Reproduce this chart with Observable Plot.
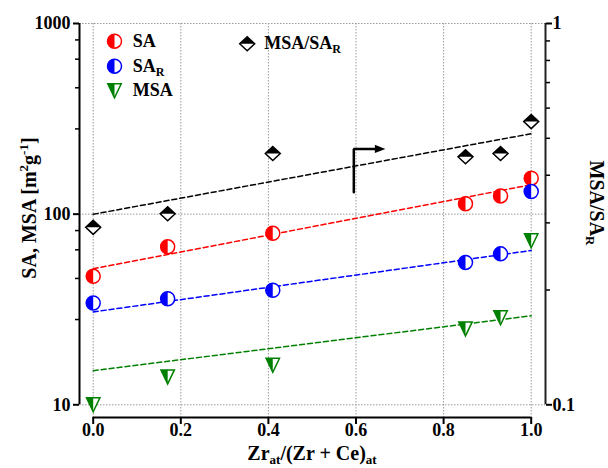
<!DOCTYPE html>
<html><head><meta charset="utf-8">
<script src="https://cdn.jsdelivr.net/npm/d3@7"></script>
<script src="https://cdn.jsdelivr.net/npm/@observablehq/plot@0.6"></script>
<style>
body{margin:0;background:#fff;}
#chart{position:relative;width:608px;height:468px;}
</style></head><body><div id="chart"></div>
<script>
// ---- data ----
const xVals = [0, 0.17, 0.41, 0.85, 0.93, 1.0];
const saVals = [47.2, 67.4, 79.3, 113.4, 124.6, 154.4];
const sarVals = [34.2, 36.0, 39.9, 55.8, 61.9, 131.3];
const msaVals = [10.0, 14.0, 16.1, 25.0, 28.6, 72.5];
const ratioVals = [0.292, 0.317, 0.456, 0.447, 0.456, 0.553];
const fitX = [0, 1];
const fitSA = [51.7, 142.7];
const fitSAR = [30.7, 64.5];
const fitMSA = [15.1, 29.3];
const fitRatio = [0.316, 0.514];
const xTicks = [0, 0.2, 0.4, 0.6, 0.8, 1.0];
const leftMajor = [10, 100, 1000];
const leftMinor = [28, 46, 65, 82, 280, 460, 650, 820];
const rightMajor = [0.1, 1];
const rightMinor = [0.2, 0.3, 0.4, 0.5, 0.6, 0.7, 0.8, 0.9];
const arrowPath = [{x: 0.595, r: 0.361}, {x: 0.595, r: 0.469}, {x: 0.655, r: 0.469}];
const arrowTip = [{x: 0.667, r: 0.469}];
const legendNames = ["SA", "SA", "MSA", "MSA/SA"];
const legendSubs = ["", "R", "", "R"];

// right axis (0.1..1) mapped onto the left log scale (10..1000)
const toLeft = r => 1000 * r * r;
const fromLeft = L => Math.sqrt(L / 1000);

const FONT = "'Liberation Serif','Times New Roman',serif";
const RED = "#ff0000", BLUE = "#0000ff", GREEN = "#008000", BLACK = "#000000";

// ---- custom symbols ----
const R = s => Math.sqrt(s / Math.PI);
const circleFull = {draw(c, s) { const r = R(s); c.moveTo(r, 0); c.arc(0, 0, r, 0, 2 * Math.PI); c.closePath(); }};
const circleLeft = {draw(c, s) { const r = R(s); c.moveTo(0, -r); c.arc(0, 0, r, -Math.PI / 2, Math.PI / 2, true); c.closePath(); }};
const triFull = {draw(c, s) { const r = R(s); c.moveTo(-0.96 * r, -r); c.lineTo(0.96 * r, -r); c.lineTo(0, r); c.closePath(); }};
const triLeft = {draw(c, s) { const r = R(s); c.moveTo(-0.96 * r, -r); c.lineTo(0, -r); c.lineTo(0, r); c.closePath(); }};
const diaFull = {draw(c, s) { const r = R(s); c.moveTo(0, -r); c.lineTo(1.07 * r, 0); c.lineTo(0, r); c.lineTo(-1.07 * r, 0); c.closePath(); }};
const diaTop = {draw(c, s) { const r = R(s); c.moveTo(-1.07 * r, 0); c.lineTo(0, -r); c.lineTo(1.07 * r, 0); c.closePath(); }};
const headRight = {draw(c, s) { const r = R(s); c.moveTo(0, 0); c.lineTo(-1.4 * r, -0.55 * r); c.lineTo(-1.4 * r, 0.55 * r); c.closePath(); }};

const rows = xVals.map((x, i) => ({x, sa: saVals[i], sar: sarVals[i], msa: msaVals[i], ratio: toLeft(ratioVals[i])}));

function series(key, full, half, color, r) {
  return [
    Plot.dot(rows, {x: "x", y: key, symbol: full, r, fill: "#fff", stroke: color, strokeWidth: 1.5}),
    Plot.dot(rows, {x: "x", y: key, symbol: half, r, fill: color, stroke: "none"})
  ];
}
function fit(vals, color, map = v => v) {
  return Plot.line(fitX, {x: d => d, y: (d, i) => map(vals[i]), stroke: color, strokeWidth: 1.5, strokeDasharray: "5,3"});
}
function legendMark(full, half, color, r, dx, dy) {
  return [
    Plot.dot([0], {frameAnchor: "top-left", dx, dy, symbol: full, r, fill: "#fff", stroke: color, strokeWidth: 1.5}),
    Plot.dot([0], {frameAnchor: "top-left", dx, dy, symbol: half, r, fill: color, stroke: "none"})
  ];
}

const gridStyle = {stroke: "#999", strokeOpacity: 1, strokeWidth: 1, strokeDasharray: "1.5,1.5"};
const noText = () => "";

const svg = Plot.plot({
  width: 608, height: 468,
  marginLeft: 79, marginRight: 63, marginTop: 23, marginBottom: 51,
  style: {fontFamily: FONT, fontWeight: "bold", fontSize: "18px", color: "#000", background: "#fff", overflow: "visible"},
  x: {domain: [0, 1], insetLeft: 13.7, insetRight: 14.3, axis: null},
  y: {type: "log", domain: [10, 1000], insetBottom: 12.7, axis: null},
  marks: [
    Plot.gridX(xTicks, gridStyle),
    Plot.gridY(leftMajor, gridStyle),
    // axis lines
    Plot.ruleX([0], {y1: 10, y2: 1000, dx: -13.7, stroke: BLACK, strokeWidth: 2}),
    Plot.ruleX([1], {y1: 10, y2: 1000, dx: 14.3, stroke: "#222", strokeWidth: 2}),
    Plot.ruleY([10], {x1: 0, x2: 1, dy: 12.7, stroke: BLACK, strokeWidth: 2}),
    // left axis
    Plot.axisY(leftMajor, {anchor: "left", tickSize: 6, tickPadding: 3, strokeWidth: 2, tickFormat: d => String(d), label: null, fontSize: 18, fontWeight: "bold"}),
    Plot.axisY(leftMinor, {anchor: "left", tickSize: 4, strokeWidth: 1.5, tickFormat: noText, label: null}),
    // right axis
    Plot.axisY(rightMajor.map(toLeft), {anchor: "right", tickSize: 6, tickPadding: 1, strokeWidth: 2, tickFormat: d => String(Math.round(fromLeft(d) * 10) / 10), label: null, fontSize: 18, fontWeight: "bold"}),
    Plot.axisY(rightMinor.map(toLeft), {anchor: "right", tickSize: 4, strokeWidth: 1.5, tickFormat: noText, label: null}),
    // bottom axis
    Plot.axisX(xTicks, {anchor: "bottom", tickSize: 7, tickPadding: -1, strokeWidth: 2, tickFormat: d3.format(".1f"), label: null, fontSize: 18, fontWeight: "bold"}),
    // fits
    fit(fitRatio, BLACK, toLeft),
    fit(fitSA, RED),
    fit(fitSAR, BLUE),
    fit(fitMSA, GREEN),
    // arrow
    Plot.line(arrowPath, {x: "x", y: d => toLeft(d.r), stroke: BLACK, strokeWidth: 2.5, strokeLinejoin: "miter"}),
    Plot.dot(arrowTip, {x: "x", y: d => toLeft(d.r), symbol: headRight, r: 7.5, fill: BLACK, stroke: "none"}),
    // data
    ...series("ratio", diaFull, diaTop, BLACK, 7),
    ...series("sa", circleFull, circleLeft, RED, 7),
    ...series("sar", circleFull, circleLeft, BLUE, 7),
    ...series("msa", triFull, triLeft, GREEN, 7),
    // legend symbols
    ...legendMark(circleFull, circleLeft, RED, 7, 35, 17.7),
    ...legendMark(circleFull, circleLeft, BLUE, 7, 35, 42.7),
    ...legendMark(triFull, triLeft, GREEN, 7, 35, 67.3),
    ...legendMark(diaFull, diaTop, BLACK, 7, 167.7, 20.3)
  ]
});
document.getElementById("chart").appendChild(svg);

// ---- text with sub/superscripts ----
function addText({x, y, rotate = 0, size, anchor = "middle", parts}) {
  const t = d3.select(svg).append("text")
    .attr("transform", `translate(${x},${y}) rotate(${rotate})`)
    .attr("text-anchor", anchor).attr("font-family", FONT).attr("font-weight", "bold")
    .attr("font-size", size).attr("fill", "#000");
  let shift = 0;
  for (const p of parts) {
    const target = p.shift || 0;
    t.append("tspan").attr("dy", target - shift).attr("font-size", p.size || size).text(p.t);
    shift = target;
  }
}
addText({x: 312, y: 460, size: 20, parts: [
  {t: "Zr"}, {t: "at", size: 13, shift: 4}, {t: "/(Zr + Ce)"}, {t: "at", size: 13, shift: 4}
]});
addText({x: 36, y: 208, rotate: -90, size: 20, parts: [
  {t: "SA, MSA [m"}, {t: "2", size: 13, shift: -8}, {t: "g"}, {t: "-1", size: 13, shift: -8}, {t: "]"}
]});
addText({x: 590, y: 203, rotate: 90, size: 20, parts: [
  {t: "MSA/SA"}, {t: "R", size: 13, shift: 4}
]});
const legendPos = [[132.7, 46.7], [132.7, 71.7], [132.7, 96.3], [264.3, 48.8]];
legendNames.forEach((name, i) => {
  const parts = [{t: name}];
  if (legendSubs[i]) parts.push({t: legendSubs[i], size: 12, shift: 4});
  addText({x: legendPos[i][0], y: legendPos[i][1], size: 18, anchor: "start", parts});
});
</script></body></html>
